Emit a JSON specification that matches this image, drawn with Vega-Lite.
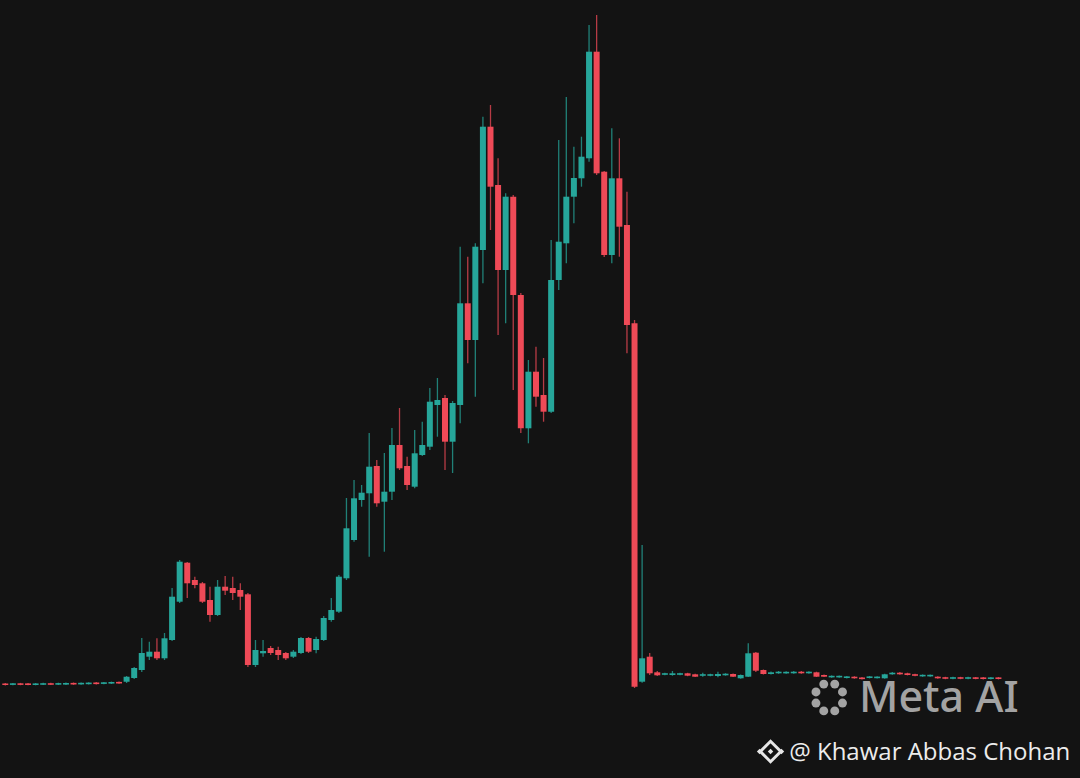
{
  "$schema": "https://vega.github.io/schema/vega-lite/v6.json",
  "width": 1080,
  "height": 778,
  "autosize": {"type": "fit", "contains": "padding"},
  "padding": 0,
  "background": "#131313",
  "config": {"view": {"stroke": null}},
  "datasets": {
    "candles": [
      {"i":0,"o":94.6,"c":93.0,"h":95.1,"l":92.6},
      {"i":1,"o":93.1,"c":94.7,"h":95.1,"l":92.8},
      {"i":2,"o":94.7,"c":93.1,"h":95.1,"l":92.8},
      {"i":3,"o":94.6,"c":93.0,"h":95.0,"l":92.7},
      {"i":4,"o":93.0,"c":94.6,"h":95.0,"l":92.7},
      {"i":5,"o":93.2,"c":94.8,"h":95.2,"l":92.9},
      {"i":6,"o":94.8,"c":93.2,"h":95.2,"l":92.9},
      {"i":7,"o":93.3,"c":94.9,"h":95.3,"l":93.0},
      {"i":8,"o":93.4,"c":95.0,"h":95.4,"l":93.1},
      {"i":9,"o":95.1,"c":93.5,"h":95.5,"l":93.2},
      {"i":10,"o":93.6,"c":95.2,"h":95.6,"l":93.3},
      {"i":11,"o":93.8,"c":95.4,"h":95.8,"l":93.5},
      {"i":12,"o":95.5,"c":93.9,"h":95.9,"l":93.6},
      {"i":13,"o":94.1,"c":95.7,"h":96.1,"l":93.8},
      {"i":14,"o":94.4,"c":96.0,"h":96.4,"l":94.0},
      {"i":15,"o":96.1,"c":94.5,"h":96.6,"l":94.2},
      {"i":16,"o":96.3,"c":101.3,"h":102,"l":95},
      {"i":17,"o":100,"c":110,"h":111,"l":99},
      {"i":18,"o":108,"c":125,"h":140,"l":106},
      {"i":19,"o":121.3,"c":126.3,"h":136.3,"l":118},
      {"i":20,"o":126.3,"c":119.7,"h":139.7,"l":118},
      {"i":21,"o":119.7,"c":139.7,"h":145,"l":118},
      {"i":22,"o":138,"c":181.3,"h":190,"l":137},
      {"i":23,"o":176.3,"c":216.3,"h":218,"l":175},
      {"i":24,"o":215.3,"c":194.7,"h":216,"l":180},
      {"i":25,"o":198,"c":193,"h":201.3,"l":189.7},
      {"i":26,"o":194.7,"c":176.3,"h":196,"l":175},
      {"i":27,"o":178,"c":163,"h":191.3,"l":156.3},
      {"i":28,"o":163,"c":191.3,"h":198,"l":162},
      {"i":29,"o":191.3,"c":187.3,"h":202,"l":183},
      {"i":30,"o":190,"c":185,"h":201.3,"l":178},
      {"i":31,"o":188,"c":181.3,"h":194.7,"l":168},
      {"i":32,"o":183.7,"c":113,"h":185,"l":111},
      {"i":33,"o":113,"c":128,"h":138,"l":111},
      {"i":34,"o":124.7,"c":127,"h":138,"l":121.3},
      {"i":35,"o":130,"c":125,"h":132,"l":123},
      {"i":36,"o":128,"c":123,"h":131.3,"l":118},
      {"i":37,"o":125,"c":119.7,"h":126,"l":118},
      {"i":38,"o":121.3,"c":126.3,"h":128,"l":120},
      {"i":39,"o":125,"c":140,"h":141,"l":124},
      {"i":40,"o":140,"c":126.3,"h":141,"l":125},
      {"i":41,"o":128,"c":139,"h":141.3,"l":124.7},
      {"i":42,"o":138,"c":160,"h":162,"l":137},
      {"i":43,"o":158,"c":168,"h":180,"l":156.3},
      {"i":44,"o":166.3,"c":201.3,"h":203,"l":165},
      {"i":45,"o":199.7,"c":249.7,"h":280,"l":198},
      {"i":46,"o":238,"c":279.7,"h":298,"l":236.3},
      {"i":47,"o":278,"c":285.3,"h":293,"l":271.3},
      {"i":48,"o":284.7,"c":311.3,"h":345,"l":221.3},
      {"i":49,"o":312,"c":274.7,"h":318,"l":271.3},
      {"i":50,"o":276.3,"c":286.3,"h":325,"l":226.3},
      {"i":51,"o":286.3,"c":333,"h":350,"l":278},
      {"i":52,"o":333,"c":309.7,"h":370,"l":308},
      {"i":53,"o":312,"c":293,"h":321.3,"l":288},
      {"i":54,"o":291.3,"c":324.7,"h":348,"l":289.7},
      {"i":55,"o":323,"c":333,"h":356.3,"l":322},
      {"i":56,"o":331.3,"c":376.3,"h":390,"l":328},
      {"i":57,"o":373,"c":378,"h":400,"l":341.3},
      {"i":58,"o":380,"c":336.3,"h":383,"l":308},
      {"i":59,"o":336.3,"c":375,"h":377,"l":305},
      {"i":60,"o":373,"c":474.7,"h":531.3,"l":354.7},
      {"i":61,"o":474.7,"c":438,"h":521.3,"l":414.7},
      {"i":62,"o":438,"c":531.3,"h":534.7,"l":381.3},
      {"i":63,"o":528,"c":651.3,"h":661.3,"l":494.7},
      {"i":64,"o":651.3,"c":591.3,"h":673,"l":548},
      {"i":65,"o":593,"c":508,"h":619.7,"l":443},
      {"i":66,"o":508,"c":581.3,"h":584.7,"l":454.7},
      {"i":67,"o":581.3,"c":483,"h":583,"l":388},
      {"i":68,"o":483,"c":349.7,"h":485,"l":345},
      {"i":69,"o":349.7,"c":406.3,"h":418,"l":334.7},
      {"i":70,"o":406.3,"c":381.3,"h":431.3,"l":371.3},
      {"i":71,"o":383,"c":366.3,"h":420,"l":356.3},
      {"i":72,"o":366.3,"c":498,"h":538,"l":365},
      {"i":73,"o":498,"c":536.3,"h":638,"l":488},
      {"i":74,"o":534.7,"c":581.3,"h":681,"l":514.7},
      {"i":75,"o":581.3,"c":600,"h":631.3,"l":554.7},
      {"i":76,"o":599.7,"c":621.3,"h":641.3,"l":591.3},
      {"i":77,"o":619.7,"c":726.3,"h":753,"l":616.3},
      {"i":78,"o":726.3,"c":604.7,"h":763,"l":603},
      {"i":79,"o":606.3,"c":523,"h":607,"l":521},
      {"i":80,"o":523,"c":599.7,"h":649.7,"l":514.7},
      {"i":81,"o":599.7,"c":551.3,"h":639.7,"l":521.3},
      {"i":82,"o":553,"c":453,"h":586.3,"l":424.7},
      {"i":83,"o":454.7,"c":91.3,"h":458,"l":90},
      {"i":84,"o":96.3,"c":119.7,"h":233,"l":95.3},
      {"i":85,"o":121.3,"c":104.7,"h":125,"l":103},
      {"i":86,"o":105.7,"c":102.7,"h":107,"l":102},
      {"i":87,"o":103.2,"c":104.8,"h":105.3,"l":102.8},
      {"i":88,"o":103,"c":104.7,"h":107,"l":102.3},
      {"i":89,"o":103.2,"c":104.8,"h":105.3,"l":102.8},
      {"i":90,"o":104.7,"c":102.3,"h":105.2,"l":101.8},
      {"i":91,"o":103.7,"c":101.3,"h":104.2,"l":101},
      {"i":92,"o":102.2,"c":103.8,"h":105.3,"l":101.3},
      {"i":93,"o":102.2,"c":103.8,"h":104.3,"l":101.8},
      {"i":94,"o":102,"c":104,"h":106.3,"l":100.7},
      {"i":95,"o":102.7,"c":104.3,"h":104.8,"l":102.3},
      {"i":96,"o":104,"c":101.3,"h":104.5,"l":101},
      {"i":97,"o":99.7,"c":103,"h":103.5,"l":99.3},
      {"i":98,"o":101.3,"c":124.7,"h":134.7,"l":101},
      {"i":99,"o":125.3,"c":107.3,"h":126,"l":106},
      {"i":100,"o":108,"c":104,"h":108.5,"l":103.5},
      {"i":101,"o":104,"c":105.7,"h":106.5,"l":103.5},
      {"i":102,"o":104.7,"c":106.3,"h":107,"l":104.2},
      {"i":103,"o":104.6,"c":106.2,"h":106.7,"l":104.2},
      {"i":104,"o":104.7,"c":106.3,"h":107,"l":104.2},
      {"i":105,"o":106.3,"c":104.7,"h":107,"l":104.2},
      {"i":106,"o":104.7,"c":106.3,"h":106.8,"l":104.3},
      {"i":107,"o":105.7,"c":101.3,"h":106.3,"l":101},
      {"i":108,"o":103,"c":101.3,"h":103.5,"l":101},
      {"i":109,"o":100.6,"c":102.2,"h":102.6,"l":100.2},
      {"i":110,"o":100.6,"c":102.2,"h":102.6,"l":100.2},
      {"i":111,"o":100,"c":101.6,"h":102,"l":99.6},
      {"i":112,"o":101.3,"c":99.7,"h":101.8,"l":99.3},
      {"i":113,"o":100.5,"c":98.9,"h":100.9,"l":98.5},
      {"i":114,"o":100,"c":101.6,"h":102,"l":99.6},
      {"i":115,"o":99.8,"c":101.4,"h":101.8,"l":99.4},
      {"i":116,"o":99.7,"c":103.7,"h":104.3,"l":99.3},
      {"i":117,"o":103.7,"c":105.3,"h":106,"l":103.3},
      {"i":118,"o":105.3,"c":103.7,"h":106,"l":103.3},
      {"i":119,"o":104.7,"c":103,"h":105.3,"l":102.6},
      {"i":120,"o":103.8,"c":102.2,"h":104.2,"l":101.8},
      {"i":121,"o":101.6,"c":103.2,"h":103.6,"l":101.2},
      {"i":122,"o":101.6,"c":103.2,"h":103.6,"l":101.2},
      {"i":123,"o":101.3,"c":99.7,"h":101.8,"l":99.3},
      {"i":124,"o":100.8,"c":99.2,"h":101.2,"l":98.8},
      {"i":125,"o":99.2,"c":100.8,"h":101.2,"l":98.8},
      {"i":126,"o":100.8,"c":99.2,"h":101.2,"l":98.8},
      {"i":127,"o":99.2,"c":100.8,"h":101.2,"l":98.8},
      {"i":128,"o":100.7,"c":99.1,"h":101.1,"l":98.7},
      {"i":129,"o":100.6,"c":99,"h":101,"l":98.6},
      {"i":130,"o":99,"c":100.6,"h":101,"l":98.6},
      {"i":131,"o":100.6,"c":99,"h":101,"l":98.6}
    ]
  },
  "layer": [
    {
      "data": {"name": "candles"},
      "mark": {"type": "rule", "strokeWidth": 1.3, "opacity": 0.75},
      "encoding": {
        "x": {"field": "i", "type": "quantitative", "scale": {"domain": [-0.04, 141.1], "nice": false, "zero": false}, "axis": null},
        "y": {"field": "l", "type": "quantitative", "scale": {"domain": [0, 778], "nice": false, "zero": false}, "axis": null},
        "y2": {"field": "h"},
        "color": {"condition": {"test": "datum.c >= datum.o", "value": "#26a69a"}, "value": "#ef4a57"}
      }
    },
    {
      "data": {"name": "candles"},
      "mark": {"type": "bar", "width": 6},
      "encoding": {
        "x": {"field": "i", "type": "quantitative"},
        "y": {"field": "o", "type": "quantitative"},
        "y2": {"field": "c"},
        "color": {"condition": {"test": "datum.c >= datum.o", "value": "#26a69a"}, "value": "#ef4a57"}
      }
    },
    {
      "data": {"values": [
        {"i": 110.43, "p": 86.05}, {"i": 110.43, "p": 74.95},
        {"i": 106.93, "p": 86.05}, {"i": 106.93, "p": 74.95},
        {"i": 109.41, "p": 93.9}, {"i": 109.41, "p": 67.1},
        {"i": 107.96, "p": 93.9}, {"i": 107.96, "p": 67.1}
      ]},
      "mark": {"type": "point", "shape": "circle", "filled": true, "size": 80, "color": "#a3a3a3", "opacity": 1},
      "encoding": {
        "x": {"field": "i", "type": "quantitative"},
        "y": {"field": "p", "type": "quantitative"}
      }
    },
    {
      "data": {"values": [{"i": 112.6, "p": 66, "t": "Meta AI"}]},
      "mark": {"type": "text", "align": "left", "baseline": "alphabetic", "font": "Noto Sans", "fontSize": 43, "fontWeight": 500, "color": "#a3a3a3"},
      "encoding": {
        "x": {"field": "i", "type": "quantitative"},
        "y": {"field": "p", "type": "quantitative"},
        "text": {"field": "t"}
      }
    },
    {
      "data": {"values": [{"i": 100.94, "p": 26.5}]},
      "mark": {"type": "point", "shape": "diamond", "filled": false, "size": 420, "strokeWidth": 3, "color": "#e6e6e6", "opacity": 1},
      "encoding": {
        "x": {"field": "i", "type": "quantitative"},
        "y": {"field": "p", "type": "quantitative"}
      }
    },
    {
      "data": {"values": [{"i": 100.94, "p": 26.5}, {"i": 99.5, "p": 26.5}, {"i": 102.38, "p": 26.5}]},
      "mark": {"type": "point", "shape": "diamond", "filled": true, "size": 30, "color": "#e6e6e6", "opacity": 1},
      "encoding": {
        "x": {"field": "i", "type": "quantitative"},
        "y": {"field": "p", "type": "quantitative"}
      }
    },
    {
      "data": {"values": [{"i": 103.4, "p": 18, "t": "@ Khawar Abbas Chohan"}]},
      "mark": {"type": "text", "align": "left", "baseline": "alphabetic", "font": "Open Sans", "fontSize": 24, "color": "#ececec"},
      "encoding": {
        "x": {"field": "i", "type": "quantitative"},
        "y": {"field": "p", "type": "quantitative"},
        "text": {"field": "t"}
      }
    }
  ]
}
